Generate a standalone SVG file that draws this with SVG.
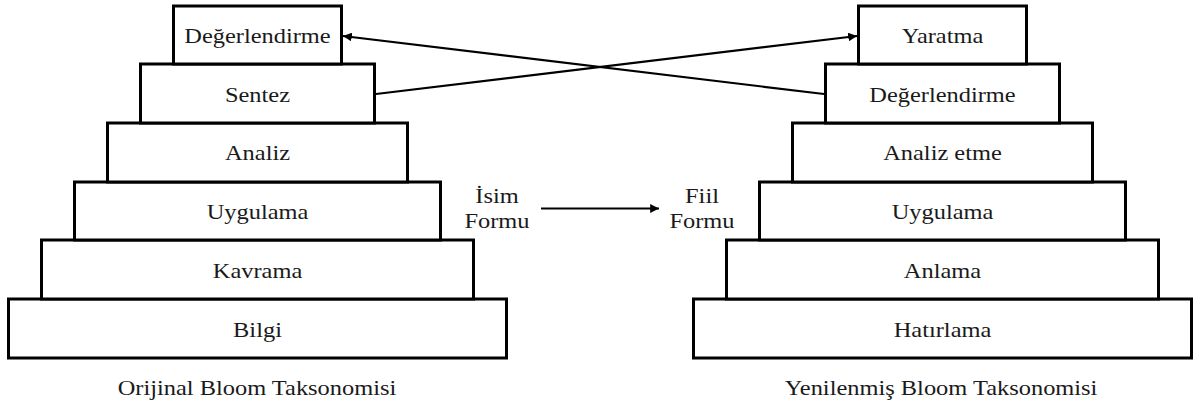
<svg xmlns="http://www.w3.org/2000/svg" width="1193" height="405" viewBox="0 0 1193 405">
  <style>
    .step { fill: #ffffff; stroke: #000000; stroke-width: 3; }
    .lbl { font-family: "Liberation Serif", "Times New Roman", serif; font-size: 22px; fill: #1a1a1a; text-anchor: middle; }
    .conn { stroke: #000000; stroke-width: 2.2; fill: none; }
  </style>
  <defs>
    <marker id="head" viewBox="0 0 10 10" refX="10" refY="5" markerWidth="4" markerHeight="4" orient="auto" markerUnits="strokeWidth">
      <path d="M0,0 L10,5 L0,10 z" fill="#000000"/>
    </marker>
    <marker id="head-lg" viewBox="0 0 10 10" refX="10" refY="5" markerWidth="5" markerHeight="4" orient="auto" markerUnits="strokeWidth">
      <path d="M0,0 L10,5 L0,10 z" fill="#000000"/>
    </marker>
  </defs>
  <rect width="1193" height="405" fill="#ffffff"/>

  <!-- Original taxonomy (noun form), bottom step drawn first -->
  <g id="orijinal">
    <g id="o-bilgi"><rect class="step" x="8.5" y="299" width="498" height="59"/><text class="lbl" transform="translate(257.5,336.5) scale(1.11,1)">Bilgi</text></g>
    <g id="o-kavrama"><rect class="step" x="41.5" y="240" width="432" height="59"/><text class="lbl" transform="translate(257.5,277.5) scale(1.11,1)">Kavrama</text></g>
    <g id="o-uygulama"><rect class="step" x="74.5" y="182" width="366" height="58"/><text class="lbl" transform="translate(257.5,219) scale(1.11,1)">Uygulama</text></g>
    <g id="o-analiz"><rect class="step" x="107.5" y="123" width="300" height="59"/><text class="lbl" transform="translate(257.5,160) scale(1.11,1)">Analiz</text></g>
    <g id="o-sentez"><rect class="step" x="140.5" y="64" width="234" height="59"/><text class="lbl" transform="translate(257.5,101.5) scale(1.11,1)">Sentez</text></g>
    <g id="o-degerlendirme"><rect class="step" x="173.5" y="6" width="168" height="58"/><text class="lbl" transform="translate(257.5,43) scale(1.11,1)">Değerlendirme</text></g>
    <g id="o-baslik"><text class="lbl" transform="translate(257,395) scale(1.11,1)">Orijinal Bloom Taksonomisi</text></g>
  </g>

  <!-- Revised taxonomy (verb form) -->
  <g id="yenilenmis">
    <g id="y-hatirlama"><rect class="step" x="693.5" y="299" width="498" height="59"/><text class="lbl" transform="translate(942.5,336.5) scale(1.11,1)">Hatırlama</text></g>
    <g id="y-anlama"><rect class="step" x="726.5" y="240" width="432" height="59"/><text class="lbl" transform="translate(942.5,277.5) scale(1.11,1)">Anlama</text></g>
    <g id="y-uygulama"><rect class="step" x="759.5" y="182" width="366" height="58"/><text class="lbl" transform="translate(942.5,219) scale(1.11,1)">Uygulama</text></g>
    <g id="y-analiz"><rect class="step" x="792.5" y="123" width="300" height="59"/><text class="lbl" transform="translate(942.5,160) scale(1.11,1)">Analiz etme</text></g>
    <g id="y-degerlendirme"><rect class="step" x="825.5" y="64" width="234" height="59"/><text class="lbl" transform="translate(942.5,101.5) scale(1.11,1)">Değerlendirme</text></g>
    <g id="y-yaratma"><rect class="step" x="858.5" y="6" width="168" height="58"/><text class="lbl" transform="translate(942.5,43) scale(1.11,1)">Yaratma</text></g>
    <g id="y-baslik"><text class="lbl" transform="translate(941,395) scale(1.11,1)">Yenilenmiş Bloom Taksonomisi</text></g>
  </g>

  <!-- Form labels -->
  <g id="isim-formu">
    <text class="lbl" transform="translate(497,203) scale(1.11,1)">İsim</text>
    <text class="lbl" transform="translate(497,228) scale(1.11,1)">Formu</text>
  </g>
  <g id="fiil-formu">
    <text class="lbl" transform="translate(702,203) scale(1.11,1)">Fiil</text>
    <text class="lbl" transform="translate(702,228) scale(1.11,1)">Formu</text>
  </g>

  <!-- Connectors -->
  <g id="connectors">
    <line class="conn" x1="376" y1="94" x2="857" y2="36" marker-end="url(#head)"/>
    <line class="conn" x1="824" y1="94" x2="343" y2="36" marker-end="url(#head)"/>
    <line class="conn" x1="541" y1="208.5" x2="659" y2="208.5" marker-end="url(#head-lg)"/>
  </g>
</svg>
